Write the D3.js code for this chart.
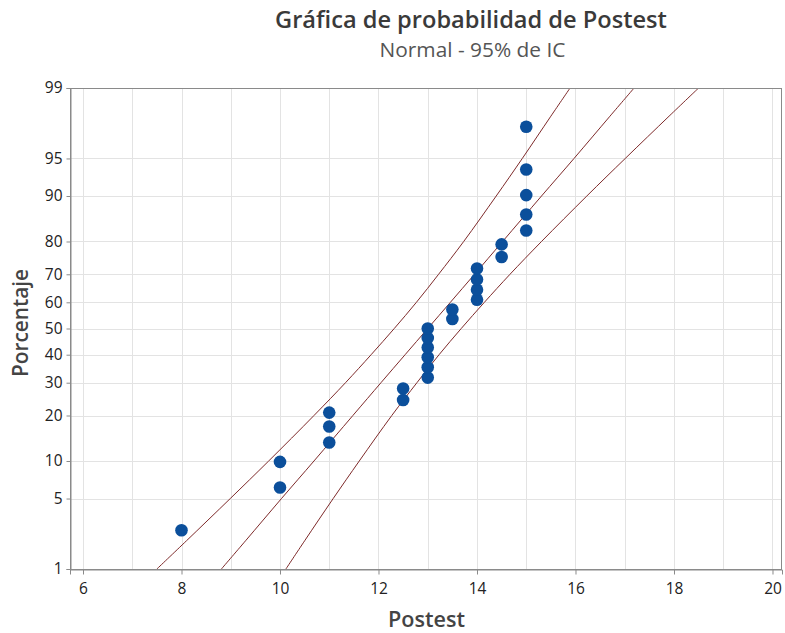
<!DOCTYPE html>
<html><head><meta charset="utf-8">
<script src="https://cdn.jsdelivr.net/npm/d3@7"></script>
<style>body{margin:0;background:#fff}svg{display:block}</style>
</head><body><svg id="c" width="785" height="633"></svg>
<script>
// ---- data ----
const postest = [8,10,10,11,11,11,12.5,12.5,13,13,13,13,13,13,13.5,13.5,14,14,14,14,14.5,14.5,15,15,15,15,15];
const pointPct = [2.55,6.20,9.85,13.50,17.15,20.80,24.45,28.10,31.75,35.40,39.05,42.70,46.35,50.00,53.65,57.30,60.95,64.60,68.25,71.90,75.55,79.20,82.85,86.50,90.15,93.80,97.45];
const linePct  = [1,2,5,10,20,30,40,50,60,70,80,90,95,98,99];
const fitX     = [8.81,9.30,10.03,10.69,11.48,12.05,12.54,13.00,13.46,13.95,14.52,15.31,15.97,16.70,17.19];
const ciLeftX  = [7.50,8.10,8.99,9.77,10.69,11.33,11.85,12.32,12.77,13.22,13.73,14.39,14.92,15.50,15.89];
const ciRightX = [10.12,10.50,11.08,11.61,12.27,12.78,13.23,13.68,14.15,14.67,15.31,16.23,17.01,17.90,18.50];
const yTickPct = [1,5,10,20,30,40,50,60,70,80,90,95,99];
const xTicks   = [6,8,10,12,14,16,18,20];
const xGrid    = [6,7,8,9,10,11,12,13,14,15,16,17,18,19,20];
const title = "Gráfica de probabilidad de Postest";
const subtitle = "Normal - 95% de IC";
const xLabel = "Postest";
const yLabel = "Porcentaje";

// inverse normal CDF (Acklam) for probability axis
function probit(p){
 const a=[-3.969683028665376e+01,2.209460984245205e+02,-2.759285104469687e+02,1.383577518672690e+02,-3.066479806614716e+01,2.506628277459239e+00];
 const b=[-5.447609879822406e+01,1.615858368580409e+02,-1.556989798598866e+02,6.680131188771972e+01,-1.328068155288572e+01];
 const c=[-7.784894002430293e-03,-3.223964580411365e-01,-2.400758277161838e+00,-2.549732539343734e+00,4.374664141464968e+00,2.938163982698783e+00];
 const d=[7.784695709041462e-03,3.224671290700398e-01,2.445134137142996e+00,3.754408661907416e+00];
 const pl=0.02425, ph=1-pl; let q,r;
 if(p<pl){q=Math.sqrt(-2*Math.log(p));return (((((c[0]*q+c[1])*q+c[2])*q+c[3])*q+c[4])*q+c[5])/((((d[0]*q+d[1])*q+d[2])*q+d[3])*q+1);}
 if(p<=ph){q=p-0.5;r=q*q;return (((((a[0]*r+a[1])*r+a[2])*r+a[3])*r+a[4])*r+a[5])*q/(((((b[0]*r+b[1])*r+b[2])*r+b[3])*r+b[4])*r+1);}
 q=Math.sqrt(-2*Math.log(1-p));return -(((((c[0]*q+c[1])*q+c[2])*q+c[3])*q+c[4])*q+c[5])/((((d[0]*q+d[1])*q+d[2])*q+d[3])*q+1);
}

const L=70, R=782, T=88, B=569;
const FONT = "'Open Sans', 'Noto Sans', sans-serif";
const svg = d3.select("#c");
const x = d3.scaleLinear().domain([5.736, 20.193]).range([L, R]);
const z = d3.scaleLinear().domain([probit(0.01), probit(0.99)]).range([B, T]);
const y = pct => z(probit(pct/100));

svg.append("defs").append("clipPath").attr("id","clip")
  .append("rect").attr("x",L).attr("y",T).attr("width",R-L).attr("height",B-T);

// gridlines
const grid = svg.append("g").attr("stroke","#e3e3e3").attr("stroke-width",1);
grid.selectAll("line.v").data(xGrid).join("line")
  .attr("x1",d=>Math.round(x(d))+0.5).attr("x2",d=>Math.round(x(d))+0.5)
  .attr("y1",T).attr("y2",B);
grid.selectAll("line.h").data(yTickPct).join("line")
  .attr("y1",d=>Math.round(y(d))+0.5).attr("y2",d=>Math.round(y(d))+0.5)
  .attr("x1",L).attr("x2",R);

// lines
const lineGen = xs => d3.line().x((p,i)=>x(xs[i])).y(p=>y(p)).curve(d3.curveCatmullRom)(linePct);
const lg = svg.append("g").attr("clip-path","url(#clip)").attr("fill","none")
  .attr("stroke","#7e2a2a").attr("stroke-width",1);
[ciLeftX, fitX, ciRightX].forEach(xs=>lg.append("path").attr("d", lineGen(xs)));

// points
svg.append("g").selectAll("circle").data(postest).join("circle")
  .attr("cx",d=>x(d)).attr("cy",(d,i)=>y(pointPct[i])).attr("r",6.3)
  .attr("fill","#0b4f9b");

// frame
svg.append("rect").attr("x",L+0.5).attr("y",T+0.5).attr("width",R-L-1).attr("height",B-T)
  .attr("fill","none").attr("stroke","#8a8a8a").attr("stroke-width",1);

// axes
const xAxis = svg.append("g").attr("transform",`translate(0,${B+0.5})`)
  .call(d3.axisBottom(x).tickValues(xTicks).tickSize(5).tickPadding(8).tickFormat(d3.format("d")));
const yAxis = svg.append("g").attr("transform",`translate(${L+0.5},0)`)
  .call(d3.axisLeft(z).tickValues(yTickPct.map(p=>probit(p/100))).tickSize(4).tickPadding(4)
     .tickFormat((d,i)=>yTickPct[i]));
[xAxis,yAxis].forEach(g=>{
  g.select(".domain").attr("stroke","#8a8a8a");
  g.selectAll(".tick line").attr("stroke","#8a8a8a");
  g.selectAll(".tick text").attr("fill","#222").style("font-family",FONT).style("font-size","15.5px");
});

// titles, sized to the reference text widths
function fitText(sel, target){
  const fs = parseFloat(sel.style("font-size"));
  const w = sel.node().getComputedTextLength();
  if (w > 0) sel.style("font-size", (fs*target/w).toFixed(2)+"px");
  return sel;
}
fitText(svg.append("text").attr("x",471).attr("y",28).attr("text-anchor","middle")
  .style("font-family",FONT).style("font-size","20px").style("font-weight","600")
  .attr("fill","#3a3a3a").text(title), 392);
fitText(svg.append("text").attr("x",472.5).attr("y",57).attr("text-anchor","middle")
  .style("font-family",FONT).style("font-size","18px")
  .attr("fill","#555").text(subtitle), 186);
fitText(svg.append("text").attr("x",426.5).attr("y",627).attr("text-anchor","middle")
  .style("font-family",FONT).style("font-size","19px").style("font-weight","600")
  .attr("fill","#444").text(xLabel), 77);
fitText(svg.append("text").attr("transform","translate(28,323) rotate(-90)").attr("text-anchor","middle")
  .style("font-family",FONT).style("font-size","19px").style("font-weight","600")
  .attr("fill","#444").text(yLabel), 108);
</script></body></html>
